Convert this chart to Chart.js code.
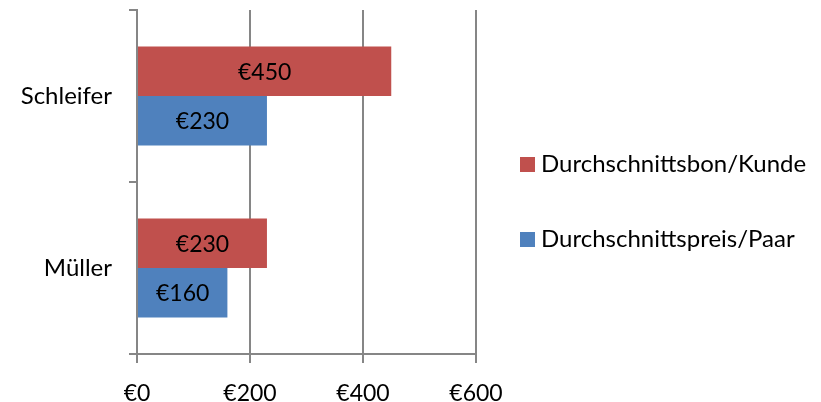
<!DOCTYPE html>
<html>
<head>
<meta charset="utf-8">
<script src="https://cdn.jsdelivr.net/npm/chart.js@4"></script>
<style>
  html, body { margin: 0; padding: 0; background: #fff; }
  #wrap { width: 821px; height: 402px; }
</style>
</head>
<body>
<div id="wrap"><canvas id="chart" width="821" height="402"></canvas></div>
<script>
const categories = ['Schleifer', 'Müller'];
const bonPerCustomer = [450, 230];
const pricePerPair = [230, 160];
const xTicks = [0, 200, 400, 600];

const gridColor = '#868686';
const fontFamily = 'Lato, "Liberation Sans", sans-serif';

// value labels in the middle of each bar
const barLabels = {
  id: 'barLabels',
  afterDatasetsDraw(chart) {
    const ctx = chart.ctx;
    ctx.save();
    ctx.font = '23px ' + fontFamily;
    ctx.fillStyle = '#000';
    ctx.textAlign = 'center';
    ctx.textBaseline = 'middle';
    chart.data.datasets.forEach((ds, i) => {
      chart.getDatasetMeta(i).data.forEach((bar, j) => {
        ctx.fillText('€' + ds.data[j], (bar.x + bar.base) / 2, bar.y + 1);
      });
    });
    ctx.restore();
  },
};

// legend on the right, spaced like the original
const sideLegend = {
  id: 'sideLegend',
  afterDraw(chart) {
    const ctx = chart.ctx;
    const left = chart.chartArea.right + 44;
    ctx.save();
    ctx.font = '24px ' + fontFamily;
    ctx.textBaseline = 'middle';
    chart.data.datasets.forEach((ds, i) => {
      const y = 164 + i * 75;
      ctx.fillStyle = ds.backgroundColor;
      ctx.fillRect(left, y - 7, 15, 15);
      ctx.fillStyle = '#000';
      ctx.fillText(ds.label, left + 21, y);
    });
    ctx.restore();
  },
};

const ctx = document.getElementById('chart').getContext('2d');
new Chart(ctx, {
  type: 'bar',
  data: {
    labels: categories,
    datasets: [
      {
        label: 'Durchschnittsbon/Kunde',
        data: bonPerCustomer,
        backgroundColor: '#C0504D',
      },
      {
        label: 'Durchschnittspreis/Paar',
        data: pricePerPair,
        backgroundColor: '#4F81BD',
      },
    ],
  },
  options: {
    indexAxis: 'y',
    responsive: false,
    animation: false,
    layout: {
      padding: { top: 10, right: 345, bottom: 0, left: 0 },
    },
    datasets: {
      bar: {
        barPercentage: 1,
        categoryPercentage: 0.577,
      },
    },
    plugins: {
      legend: { display: false },
      tooltip: { enabled: false },
    },
    scales: {
      x: {
        min: 0,
        max: 600,
        afterBuildTicks: (scale) => {
          scale.ticks = xTicks.map(v => ({ value: v }));
        },
        afterFit: (scale) => { scale.height = 48; },
        ticks: {
          color: '#000',
          padding: 17,
          font: { family: fontFamily, size: 23 },
          callback: (v) => '€' + v,
        },
        grid: { color: gridColor, lineWidth: 2, tickLength: 9 },
        border: { color: gridColor, width: 2 },
      },
      y: {
        afterFit: (scale) => {
          scale.width = 137;
          scale.paddingTop = 0;
          scale.paddingBottom = 0;
        },
        ticks: {
          color: '#000',
          padding: 17,
          font: { family: fontFamily, size: 24 },
        },
        grid: {
          offset: true,
          drawOnChartArea: false,
          color: gridColor,
          lineWidth: 2,
          tickLength: 8,
        },
        border: { color: gridColor, width: 2 },
      },
    },
  },
  plugins: [barLabels, sideLegend],
});
</script>
</body>
</html>
